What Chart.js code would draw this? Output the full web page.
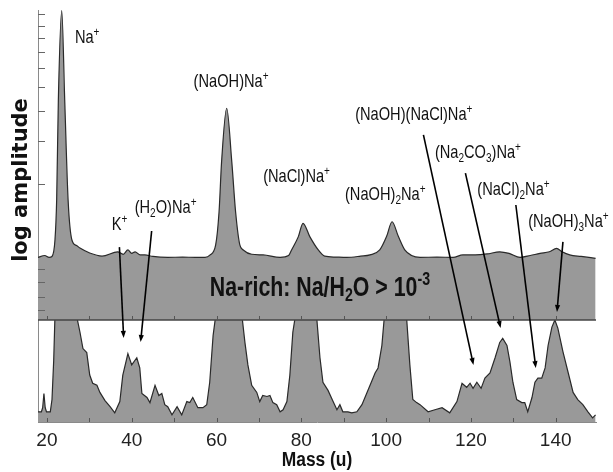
<!DOCTYPE html>
<html>
<head>
<meta charset="utf-8">
<script src="https://cdn.jsdelivr.net/npm/chart.js@4.4.0/dist/chart.umd.min.js"></script>
<style>
  html, body { margin: 0; padding: 0; background: #fff; }
  #wrap { width: 613px; height: 472px; }
</style>
</head>
<body>
<div id="wrap"><canvas id="spectrum"></canvas></div>
<script>
// Upper panel: full spectrum (log amplitude, arbitrary units 0-100)
const topMass = [17.9, 19.5, 20.5, 21.2, 21.9, 22.3, 22.7, 23.5, 24.2, 25.0, 25.9, 27.0, 27.8, 30.1, 33.0,
  36.7, 38.0, 39.1, 40.0, 40.8, 42.0, 43.1, 45.0, 48.5, 52.0, 55.0, 57.3, 58.5, 59.8, 60.6, 61.2, 62.4,
  63.6, 64.5, 65.5, 66.3, 68.3, 71.0, 75.0, 77.0, 77.7, 79.3, 80.4, 82.0, 84.0, 85.5, 88.0, 90.7, 94.0,
  96.2, 98.5, 100.1, 101.4, 102.9, 104.4, 106.0, 108.0, 112.0, 115.8, 118.1, 121.0, 123.8, 126.8, 129.0,
  131.6, 134.0, 136.3, 138.5, 140.2, 141.5, 143.3, 146.0, 149.4];
const topAmp = [20.2, 20.8, 20.2, 20.5, 25.8, 38.7, 71, 99.8, 71, 38.7, 25.8, 24, 23.2, 21.6, 20.6,
  22, 21.2, 22.6, 21.5, 22, 21, 21, 20.5, 20.2, 20.3, 20.2, 20.2, 21, 24.2, 34.9, 51.1, 68.3,
  51.1, 34.9, 24.2, 22.6, 21.2, 21, 20.2, 20.8, 22.6, 26.9, 31.2, 26.9, 22.6, 20.6, 20.3, 20.2, 20.6,
  21, 22.6, 26.9, 31.7, 26.9, 22.6, 20.8, 20.2, 20.3, 20.2, 21, 21, 21.3, 22, 21.5,
  20.2, 20.8, 21.5, 22, 23.1, 22, 21, 20.5, 19.9];

// Lower panel: expanded low-amplitude part (values above 100 run off the top)
const lowMass = [17.9, 18.7, 19.0, 19.3, 19.6, 19.9, 20.8, 21.2, 21.6, 21.9, 27.0, 27.8, 28.5, 29.4, 30.1,
  30.8, 31.8, 32.5, 33.7, 34.9, 36.0, 37.2, 37.9, 39.1, 40.0, 41.2, 41.9, 42.4, 43.6, 44.3, 45.5, 46.4,
  47.1, 47.8, 48.5, 49.5, 50.7, 51.8, 53.0, 53.7, 54.4, 55.6, 56.8, 57.7, 58.4, 59.2, 59.8, 66.0, 66.7,
  67.4, 68.3, 69.5, 70.2, 70.9, 71.9, 72.6, 73.3, 74.2, 75.0, 75.7, 76.6, 77.3, 78.0, 78.6, 83.6, 84.4,
  85.1, 86.3, 87.5, 88.4, 89.1, 89.8, 91.0, 91.9, 93.1, 94.3, 95.5, 96.7, 97.4, 98.1, 99.0, 99.6, 104.8,
  105.6, 106.3, 107.2, 108.0, 109.9, 111.5, 113.2, 115.0, 116.7, 117.9, 119.0, 119.8, 120.5, 121.4, 122.4,
  123.3, 124.5, 125.7, 126.8, 127.5, 128.5, 129.2, 129.9, 130.8, 132.0, 132.7, 133.4, 134.4, 135.1, 135.8,
  136.7, 137.5, 138.2, 139.1, 139.8, 140.5, 141.7, 142.9, 144.1, 145.2, 146.4, 147.6, 148.7, 149.4];
const lowAmp = [10, 10, 14, 28, 14, 10, 10, 22, 60, 104, 104, 88, 72, 68, 46,
  38, 36, 29, 21, 15, 9, 20, 46, 67, 56, 63, 53, 28, 24, 19, 36, 26,
  28, 17, 15, 7, 15, 7, 20, 19, 24, 14, 14, 17, 39, 85, 104, 104, 78,
  56, 36, 29, 20, 26, 25, 26, 19, 17, 10, 12, 20, 46, 88, 104, 104, 63,
  39, 31, 20, 12, 17, 10, 10, 9, 10, 17, 29, 41, 48, 53, 75, 104, 104,
  56, 22, 19, 17, 10, 12, 14, 9, 20, 38, 34, 38, 33, 39, 33,
  43, 48, 63, 78, 82, 75, 59, 39, 22, 19, 19, 10, 24, 39, 43,
  43, 53, 75, 93, 100, 92, 69, 49, 29, 22, 17, 10, 4, 7];

const massTicks = [20, 40, 60, 80, 100, 120, 140];
const minorMassTicks = [20, 30, 40, 50, 60, 70, 80, 90, 100, 110, 120, 130, 140];
const topAmpTicks = [3.2, 7.4, 12.3, 16.5, 43.9, 57.7, 67.4, 75.2, 81.3, 86.5, 91, 95, 98.7];

// peak labels: anchor (left edge, middle) in mass / upper amplitude
const peakLabels = [
  { text: 'Na^+', mass: 26.6, amp: 91 },
  { text: '(NaOH)Na^+', mass: 54.6, amp: 76.8 },
  { text: '(NaCl)Na^+', mass: 71, amp: 46.1 },
  { text: 'K^+', mass: 35.3, amp: 30.6 },
  { text: '(H_2O)Na^+', mass: 40.7, amp: 36.1 },
  { text: '(NaOH)(NaCl)Na^+', mass: 92.7, amp: 66.1 },
  { text: '(Na_2CO_3)Na^+', mass: 111.5, amp: 53.9 },
  { text: '(NaOH)_2Na^+', mass: 90.3, amp: 40.3 },
  { text: '(NaCl)_2Na^+', mass: 121.5, amp: 41.9 },
  { text: '(NaOH)_3Na^+', mass: 133.5, amp: 31.6 }
];
// arrows: start on upper axis, tip on lower axis
const arrows = [
  { m0: 37.1, a0: 23.5, m1: 38.1, a1: 82.4 },
  { m0: 44.7, a0: 28.7, m1: 42.1, a1: 78.4 },
  { m0: 108.8, a0: 59.7, m1: 120.6, a1: 55.9 },
  { m0: 118.7, a0: 47.4, m1: 127.0, a1: 92.2 },
  { m0: 130.6, a0: 37.1, m1: 135.3, a1: 52.9 },
  { m0: 141.7, a0: 25.2, m1: 140.3, a1: 107.8 }
];

const sans = '"Liberation Sans", Arial, sans-serif';

function richParts(str) {
  return str.split(/(\^\{[^}]*\}|\^.|_.)/).filter(Boolean).map(p => {
    if (p[0] === '^') return { t: p.slice(1).replace(/[{}]/g, ''), kind: 'sup' };
    if (p[0] === '_') return { t: p.slice(1), kind: 'sub' };
    return { t: p, kind: 'normal' };
  });
}

// condensed look: draw with a horizontal squeeze
function drawRich(ctx, str, x, y, size, weight, align, squeeze) {
  const parts = richParts(str);
  const fontFor = k => `${weight} ${k === 'normal' ? size : Math.round(size * 0.66)}px ${sans}`;
  let total = 0;
  parts.forEach(p => { ctx.font = fontFor(p.kind); total += ctx.measureText(p.t).width; });
  ctx.save();
  ctx.translate(x, y);
  ctx.scale(squeeze, 1);
  let cx = align === 'center' ? -total / 2 : 0;
  ctx.textAlign = 'left';
  ctx.textBaseline = 'middle';
  parts.forEach(p => {
    ctx.font = fontFor(p.kind);
    const dy = p.kind === 'sup' ? -size * 0.3 : p.kind === 'sub' ? size * 0.3 : 0;
    ctx.fillText(p.t, cx, dy);
    cx += ctx.measureText(p.t).width;
  });
  ctx.restore();
}

const annotate = {
  id: 'annotate',
  afterDatasetsDraw(chart) {
    const ctx = chart.ctx;
    const x = chart.scales.x, yTop = chart.scales.yTop, yLow = chart.scales.yLow;
    ctx.save();

    // divider between the two panels
    ctx.strokeStyle = '#444';
    ctx.lineWidth = 1.5;
    ctx.beginPath();
    ctx.moveTo(x.left, yTop.bottom);
    ctx.lineTo(x.right, yTop.bottom);
    ctx.stroke();

    // minor ticks
    ctx.strokeStyle = '#555';
    ctx.lineWidth = 1;
    minorMassTicks.forEach(m => {
      const px = Math.round(x.getPixelForValue(m)) + 0.5;
      ctx.beginPath();
      ctx.moveTo(px, yTop.bottom); ctx.lineTo(px, yTop.bottom - 4);
      ctx.moveTo(px, yLow.bottom); ctx.lineTo(px, yLow.bottom - 4);
      ctx.stroke();
    });
    ctx.strokeStyle = '#666';
    topAmpTicks.forEach(v => {
      const py = Math.round(yTop.getPixelForValue(v)) + 0.5;
      ctx.beginPath();
      ctx.moveTo(x.left, py); ctx.lineTo(x.left + 7, py);
      ctx.stroke();
    });

    // arrows
    ctx.strokeStyle = '#000';
    ctx.fillStyle = '#000';
    ctx.lineWidth = 1.6;
    arrows.forEach(a => {
      const x0 = x.getPixelForValue(a.m0), y0 = yTop.getPixelForValue(a.a0);
      const x1 = x.getPixelForValue(a.m1), y1 = yLow.getPixelForValue(a.a1);
      const ang = Math.atan2(y1 - y0, x1 - x0);
      ctx.beginPath();
      ctx.moveTo(x0, y0);
      ctx.lineTo(x1 - 5 * Math.cos(ang), y1 - 5 * Math.sin(ang));
      ctx.stroke();
      ctx.beginPath();
      ctx.moveTo(x1, y1);
      ctx.lineTo(x1 - 7 * Math.cos(ang) + 2.6 * Math.sin(ang), y1 - 7 * Math.sin(ang) - 2.6 * Math.cos(ang));
      ctx.lineTo(x1 - 7 * Math.cos(ang) - 2.6 * Math.sin(ang), y1 - 7 * Math.sin(ang) + 2.6 * Math.cos(ang));
      ctx.closePath();
      ctx.fill();
    });

    // peak labels
    ctx.fillStyle = '#111';
    peakLabels.forEach(l => {
      drawRich(ctx, l.text, x.getPixelForValue(l.mass), yTop.getPixelForValue(l.amp), 19, 'normal', 'left', 0.77);
    });

    // band caption
    drawRich(ctx, 'Na-rich: Na/H_2O > 10^{-3}', x.getPixelForValue(84.4), yTop.getPixelForValue(10.3), 27, 'bold', 'center', 0.79);

    // x axis title
    drawRich(ctx, 'Mass (u)', (x.left + x.right) / 2, x.bottom - 12, 20, 'bold', 'center', 0.87);

    // y axis title
    ctx.translate(27, (yTop.top + yTop.bottom) / 2 + 15);
    ctx.rotate(-Math.PI / 2);
    ctx.font = 'bold 21px "DejaVu Sans", sans-serif';
    ctx.textAlign = 'center';
    ctx.textBaseline = 'alphabetic';
    ctx.fillStyle = '#111';
    ctx.fillText('log amplitude', 0, 0);
    ctx.restore();
  }
};

document.addEventListener('DOMContentLoaded', function() {
  const ctx = document.getElementById('spectrum').getContext('2d');
  const fillGray = '#999999';
  const lineDark = '#2a2a2a';

  new Chart(ctx, {
    type: 'line',
    data: {
      datasets: [{
        label: 'full',
        data: topMass.map((m, i) => ({ x: m, y: topAmp[i] })),
        yAxisID: 'yTop',
        borderColor: lineDark,
        backgroundColor: fillGray,
        borderWidth: 1.2,
        fill: 'start',
        pointRadius: 0,
        cubicInterpolationMode: 'monotone',
        order: 0
      }, {
        label: 'expanded',
        data: lowMass.map((m, i) => ({ x: m, y: lowAmp[i] })),
        yAxisID: 'yLow',
        borderColor: lineDark,
        backgroundColor: fillGray,
        borderWidth: 1.2,
        fill: 'start',
        pointRadius: 0,
        tension: 0,
        order: 1
      }]
    },
    options: {
      responsive: true,
      maintainAspectRatio: false,
      animation: false,
      layout: { padding: { top: 10, right: 17, left: 0, bottom: 0 } },
      plugins: {
        legend: { display: false },
        tooltip: { enabled: false }
      },
      scales: {
        x: {
          type: 'linear',
          position: 'bottom',
          min: 17.9,
          max: 149.5,
          afterBuildTicks: s => { s.ticks = massTicks.map(v => ({ value: v })); },
          afterFit: s => { s.height = 50; },
          grid: { display: false, drawTicks: false },
          border: { display: true, color: '#8a8a8a', width: 1 },
          ticks: {
            font: { family: sans, size: 19 },
            color: '#222',
            padding: 7,
            maxRotation: 0,
            autoSkip: false
          },
          title: { display: false }
        },
        yLow: {
          type: 'linear',
          position: 'left',
          stack: 'amp',
          stackWeight: 102,
          weight: 0,
          min: 0,
          max: 100,
          afterFit: s => { s.width = 38; },
          ticks: { display: false },
          grid: { display: false, drawTicks: false },
          border: { display: true, color: '#8a8a8a', width: 1 }
        },
        yTop: {
          type: 'linear',
          position: 'left',
          stack: 'amp',
          stackWeight: 310,
          weight: 1,
          min: 0,
          max: 100,
          afterFit: s => { s.width = 38; },
          ticks: { display: false },
          grid: { display: false, drawTicks: false },
          border: { display: true, color: '#8a8a8a', width: 1 }
        }
      }
    },
    plugins: [annotate]
  });
});
</script>
</body>
</html>
